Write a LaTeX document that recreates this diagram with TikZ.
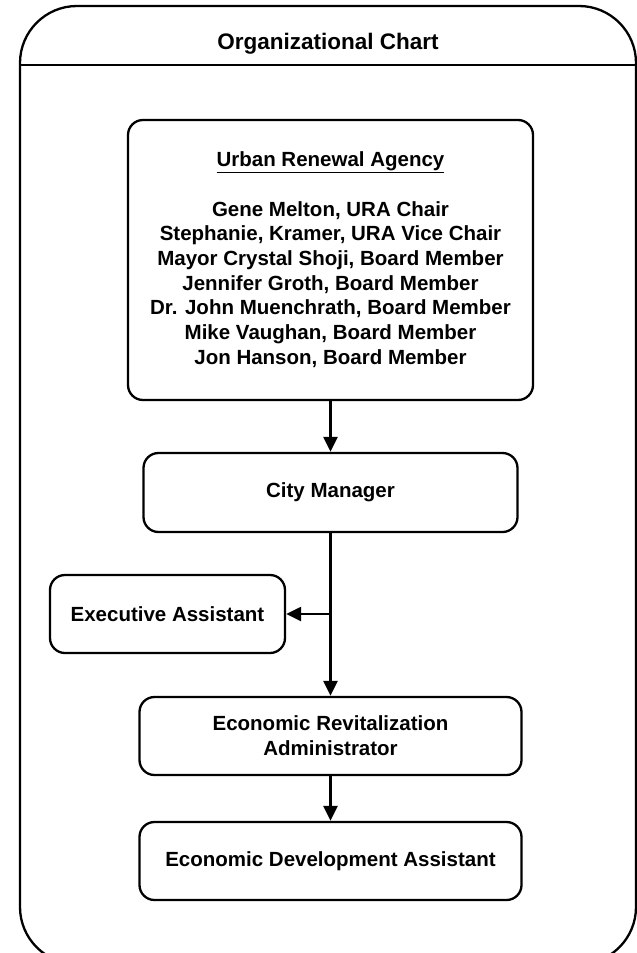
\documentclass[tikz,border=0pt]{standalone}
\usepackage{fontspec}
\setmainfont{Liberation Sans}
\usetikzlibrary{arrows.meta}
\tikzset{
  box/.style={draw=black, line width=2.3pt, rounded corners=15pt, align=center,
    inner sep=0pt, font=\fontsize{20.5}{24.7}\selectfont\bfseries},
  arr/.style={draw=black, line width=2.3pt, -{Triangle[length=15pt,width=14pt]}},
  frame/.style={draw=black, line width=2.3pt}
}
\begin{document}
\begin{tikzpicture}[x=1pt,y=-1pt]
\useasboundingbox (0,0) rectangle (637,953);
\clip (0,0) rectangle (637,953);
\draw[frame, rounded corners=57pt] (20,6) rectangle (636,964);
\draw[frame] (20,65) -- (636,65);
\node[font=\fontsize{22.5}{26}\selectfont\bfseries] (title) at (328,44) {Organizational Chart};

\node[box, minimum width=405pt, minimum height=280pt] (ura) at (330.5,260)
  {\underline{Urban Renewal Agency}\\[24.7pt]
   Gene Melton, URA Chair\\
   Stephanie, Kramer, URA Vice Chair\\
   Mayor Crystal Shoji, Board Member\\
   Jennifer Groth, Board Member\\
   Dr. John Muenchrath, Board Member\\
   Mike Vaughan, Board Member\\
   Jon Hanson, Board Member\rule[-4pt]{0pt}{1pt}};
\node[box, minimum width=374pt, minimum height=79pt] (cm) at (330.5,492.5) {City Manager};
\node[box, minimum width=235pt, minimum height=78pt] (ea) at (167.5,614) {Executive Assistant};
\node[box, minimum width=382pt, minimum height=78pt] (era) at (330.5,736) {Economic Revitalization\\Administrator};
\node[box, minimum width=382pt, minimum height=78pt] (eda) at (330.5,861) {Economic Development Assistant};

\coordinate (j) at (cm.south |- ea.east);
\draw[arr] (ura.south) -- (cm.north);
\draw[arr] (cm.south) -- (era.north);
\draw[arr] (j) -- (ea.east);
\draw[arr] (era.south) -- (eda.north);
\end{tikzpicture}
\end{document}
